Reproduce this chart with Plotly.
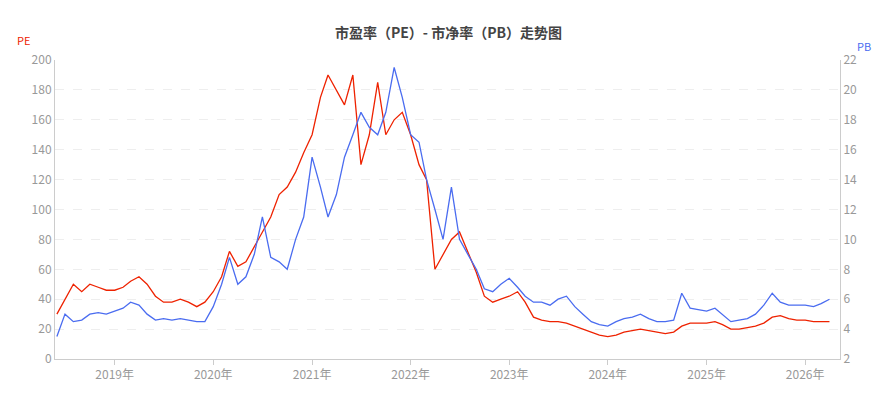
import plotly.graph_objects as go
import pandas as pd

dates = pd.date_range("2018-06-01", "2026-04-01", freq="MS").strftime("%Y-%m-%d").tolist()
pe = [30,40,50,45,50,48,46,
      46,48,52,55,50,42,38,38,40,38,35,38,
      45,55,72,62,65,75,85,95,110,115,125,138,
      150,175,190,180,170,190,130,150,185,150,160,165,
      150,130,120,60,70,80,85,72,58,42,38,40,
      42,45,38,28,26,25,25,24,22,20,18,16,
      15,16,18,19,20,19,18,17,18,22,24,24,
      24,25,23,20,20,21,22,24,28,29,27,26,
      26,25,25,25]
pb = [3.5,5.0,4.5,4.6,5.0,5.1,5.0,
      5.2,5.4,5.8,5.6,5.0,4.6,4.7,4.6,4.7,4.6,4.5,4.5,
      5.5,7.0,8.8,7.0,7.5,9.0,11.5,8.8,8.5,8.0,10.0,11.5,
      15.5,13.5,11.5,13.0,15.5,17.0,18.5,17.5,17.0,18.5,21.5,19.5,
      17.0,16.5,14.0,12.0,10.0,13.5,10.0,9.0,8.0,6.7,6.5,7.0,
      7.4,6.8,6.2,5.8,5.8,5.6,6.0,6.2,5.5,5.0,4.5,4.3,
      4.2,4.5,4.7,4.8,5.0,4.7,4.5,4.5,4.6,6.4,5.4,5.3,
      5.2,5.4,5.0,4.5,4.6,4.7,5.0,5.6,6.4,5.8,5.6,5.6,
      5.6,5.5,5.7,6.0]

fig = go.Figure()
fig.add_trace(go.Scatter(x=dates, y=pe, name="PE", mode="lines", line=dict(color="#ee2200", width=1.3)))
fig.add_trace(go.Scatter(x=dates, y=pb, name="PB", mode="lines", yaxis="y2", line=dict(color="#4a6cf0", width=1.3)))
tick = dict(color="#999", size=12)
fig.update_layout(
    width=881, height=404, margin=dict(l=47, r=49, t=52, b=53),
    paper_bgcolor="white", plot_bgcolor="white", showlegend=False,
    font=dict(family="Noto Sans CJK SC"),
    title=dict(text="<b>市盈率（PE）- 市净率（PB）走势图</b>", x=0.5, y=0.95, xanchor="center", font=dict(size=14, color="#444")),
    xaxis=dict(type="date", range=["2018-05-25", "2026-05-10"], tickformat="%Y年", dtick="M12", tick0="2019-01-01",
               showgrid=False, showline=True, linecolor="#ccc", ticks="outside", tickcolor="#ccc", tickfont=tick),
    yaxis=dict(range=[0, 200], dtick=20, gridcolor="#eee", griddash="dash", tickfont=tick, zeroline=False,
               showline=True, linecolor="#ccc"),
    yaxis2=dict(range=[2, 22], dtick=2, overlaying="y", side="right", showgrid=False, tickfont=tick,
                showline=True, linecolor="#ccc", zeroline=False),
    annotations=[
        dict(text="PE", x=-0.04, xref="paper", xanchor="center", y=1.1, yref="paper", showarrow=False, font=dict(color="#ee2200", size=11)),
        dict(text="PB", x=1.03, xref="paper", xanchor="center", y=1.08, yref="paper", showarrow=False, font=dict(color="#4a6cf0", size=11)),
    ],
)
fig.write_html("out.html")
